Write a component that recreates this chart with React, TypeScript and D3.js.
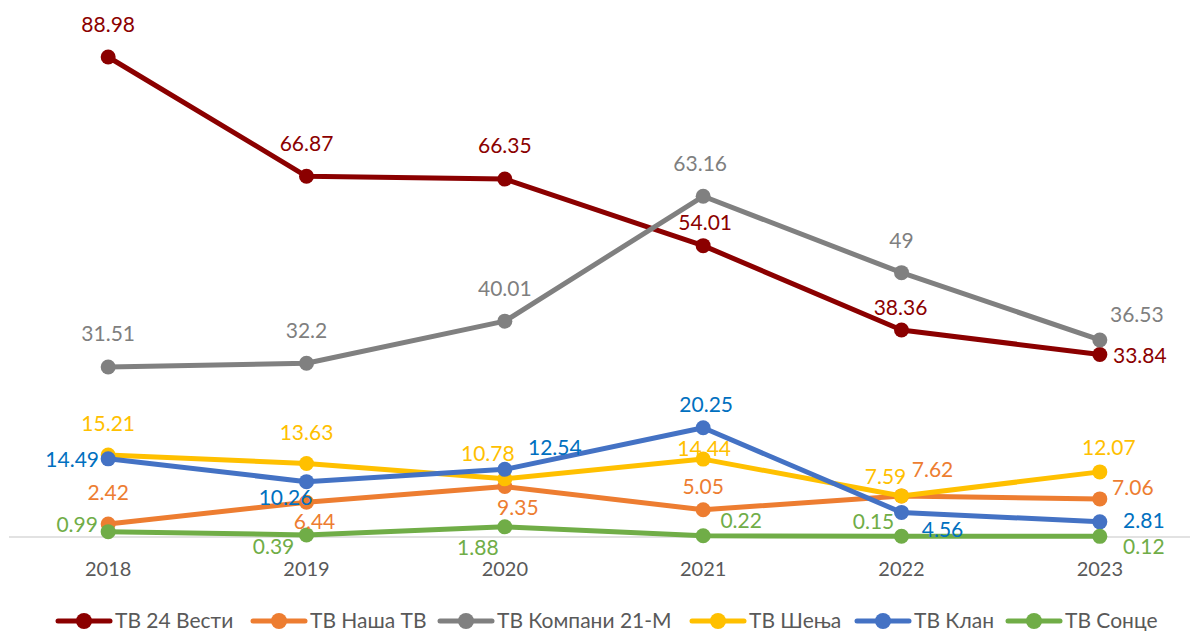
import React, { useEffect } from "react";
import { scaleBand, scaleLinear, line } from "d3";

const years = ["2018", "2019", "2020", "2021", "2022", "2023"];

const seriesNames = [
  "ТВ 24 Вести",
  "ТВ Наша ТВ",
  "ТВ Компани 21-М",
  "ТВ Шења",
  "ТВ Клан",
  "ТВ Сонце",
];

const vesti24 = [88.98, 66.87, 66.35, 54.01, 38.36, 33.84];
const nashaTv = [2.42, 6.44, 9.35, 5.05, 7.62, 7.06];
const kompani21m = [31.51, 32.2, 40.01, 63.16, 49, 36.53];
const shenja = [15.21, 13.63, 10.78, 14.44, 7.59, 12.07];
const klan = [14.49, 10.26, 12.54, 20.25, 4.56, 2.81];
const sonce = [0.99, 0.39, 1.88, 0.22, 0.15, 0.12];

const seriesValues = [vesti24, nashaTv, kompani21m, shenja, klan, sonce];

// line colour, label colour
const lineColors = ["#8B0000", "#ED7D31", "#808080", "#FFC000", "#4472C4", "#70AD47"];
const labelColors = ["#8B0000", "#ED7D31", "#7F7F7F", "#FFC000", "#0070C0", "#70AD47"];

// label offsets from the point [dx, dy], like the hand placed labels in the original
const labelOffsets = [
  [[0, -32], [0, -33], [0, -33], [2, -23], [-1, -22], [40, 1]],
  [[0, -31], [8, 19], [13, 21], [0, -23], [31, -26], [33, -11]],
  [[0, -33], [0, -33], [0, -33], [-3, -33], [0, -32], [37, -25]],
  [[0, -31], [0, -31], [-17, -25], [1, -10], [-16, -19], [9, -24]],
  [[-36, 1], [-21, 16], [50, -22], [3, -23], [41, 17], [44, -1]],
  [[-31, -7], [-33, 12], [-27, 21], [38, -15], [-28, -15], [44, 10]],
];

const legendX = [56, 251, 438, 690, 855, 1006];

const W = 1190;
const H = 631;
const FONT = "Lato, 'Open Sans', sans-serif";

export default function App() {
  useEffect(() => {
    document.body.style.margin = "0";
  }, []);

  const x = scaleBand<string>().domain(years).range([9, 1199]);
  const y = scaleLinear().domain([0, 90]).range([537, 51.5]);
  const cx = (yr: string) => (x(yr) ?? 0) + x.bandwidth() / 2;

  const path = line<number>()
    .x((_, i) => cx(years[i]))
    .y((d) => y(d));

  return (
    <svg width={W} height={H} style={{ display: "block", background: "#fff" }} fontFamily={FONT}>
      <line x1={9} x2={1199} y1={y(0)} y2={y(0)} stroke="#D9D9D9" strokeWidth={1.3} />

      {years.map((yr) => (
        <text key={yr} x={cx(yr)} y={569} dy="0.35em" textAnchor="middle" fontSize={20} fill="#595959">
          {yr}
        </text>
      ))}

      {seriesValues.map((vals, s) => (
        <g key={seriesNames[s]}>
          <path d={path(vals) ?? ""} fill="none" stroke={lineColors[s]} strokeWidth={5} strokeLinejoin="round" strokeLinecap="round" />
          {vals.map((v, i) => (
            <circle key={i} cx={cx(years[i])} cy={y(v)} r={7.5} fill={lineColors[s]} />
          ))}
        </g>
      ))}

      {seriesValues.map((vals, s) =>
        vals.map((v, i) => (
          <text
            key={`${s}-${i}`}
            x={cx(years[i]) + labelOffsets[s][i][0]}
            y={y(v) + labelOffsets[s][i][1]}
            dy="0.35em"
            textAnchor="middle"
            fontSize={21}
            fill={labelColors[s]}
          >
            {v}
          </text>
        ))
      )}

      {seriesNames.map((name, s) => (
        <g key={name} transform={`translate(${legendX[s]},621)`}>
          <line x1={2} x2={54} y1={0} y2={0} stroke={lineColors[s]} strokeWidth={5} strokeLinecap="round" />
          <circle cx={28} cy={0} r={8} fill={lineColors[s]} />
          <text x={59} y={0} dy="0.35em" fontSize={21} fill="#595959">
            {name}
          </text>
        </g>
      ))}
    </svg>
  );
}
